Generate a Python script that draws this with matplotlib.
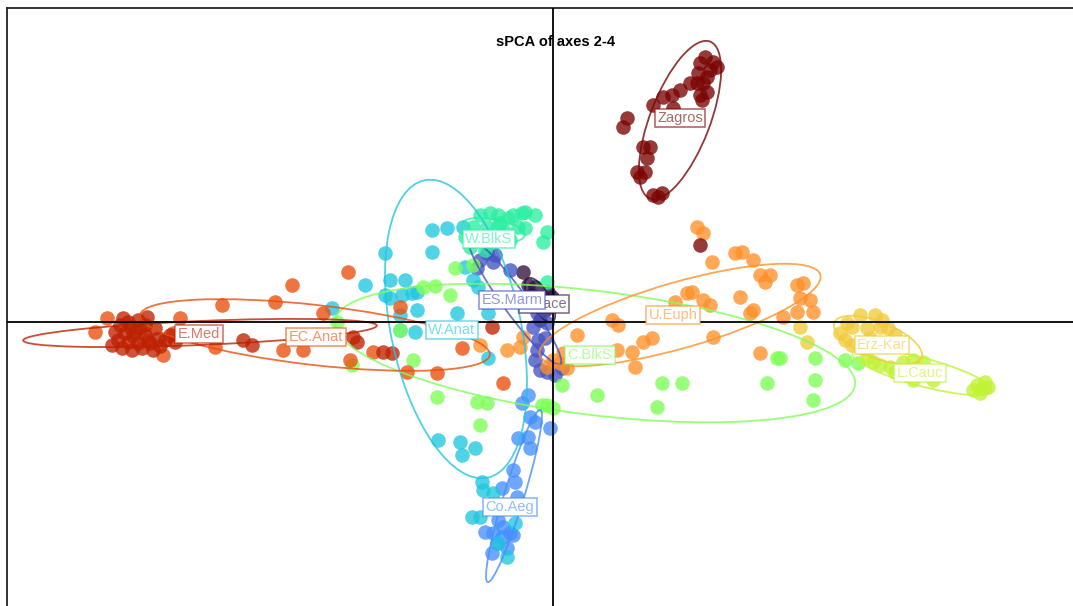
import matplotlib
matplotlib.use("Agg")
import matplotlib.pyplot as plt
import numpy as np
from matplotlib.patches import Ellipse

# sPCA scores (axis 2 on x, axis 4 on y), one list of (x, y) per population
groups = ["Thrace", "ES.Marm", "Co.Aeg", "W.Anat", "W.BlkS", "C.BlkS",
          "L.Cauc", "Erz-Kar", "U.Euph", "EC.Anat", "E.Med", "Zagros"]

thrace = [(-30, 50), (-25, 37), (-18, 35), (-5, 30), (-1, 25), (-21, 27), (-8, 12), (-13, 2)]
es_marm = [(-66, 69), (-58, 67), (-73, 62), (-76, 54), (-60, 60), (-16, 9), (-20, -5), (-10, 12),
           (-6, -1), (-15, -18), (-8, -16), (-18, -38), (-13, -48), (-6, -50), (-16, -28),
           (2, -53), (9, -46), (-43, 52)]
co_aeg = [(-25, -73), (-31, -81), (-23, -95), (-18, -100), (-3, -106), (-35, -116), (-25, -115),
          (-23, -126), (-40, -148), (-38, -160), (-51, -166), (-36, -175), (-55, -198), (-50, -205),
          (-60, -211), (-68, -210), (-43, -211), (-56, -221), (-61, -231), (-46, -226), (-40, -213),
          (-51, -215)]
w_anat = [(-121, 92), (-106, 94), (-90, 95), (-168, 69), (-121, 70), (-163, 42), (-148, 42),
          (-136, 30), (-168, 27), (-151, 27), (-141, 29), (-136, 12), (-96, 9), (-138, -10),
          (-65, 9), (-88, 55), (-80, 42), (-75, 35), (-153, -8), (-188, 37), (-163, 24), (-221, 14),
          (-65, -36), (-115, -118), (-93, -120), (-91, -133), (-78, -126), (-71, -160), (-70, -168),
          (-60, -171), (-81, -195), (-73, -195), (-55, -221), (-46, -235), (-38, -201), (-153, 7)]
w_blks = [(-73, 107), (-63, 109), (-55, 107), (-45, 104), (-40, 107), (-31, 109), (-28, 110),
          (-35, 95), (-28, 94), (-6, 90), (-10, 80), (-80, 95), (-66, 95), (-56, 95), (-53, 99),
          (-73, 85), (-83, 75), (-63, 79), (-6, 40), (-48, 90), (-43, 82), (-88, 85), (-68, 72),
          (-18, 107)]
c_blks = [(-130, 35), (-118, 36), (-103, 27), (-153, -8), (-140, -38), (-201, -43), (-216, 0),
          (-116, -75), (-76, -80), (-66, -81), (-98, 54), (-80, 57), (-73, -103), (-11, -83),
          (0, -86), (9, -63), (44, -73), (109, -61), (129, -61), (104, -85), (214, -61), (224, -36),
          (262, -36), (262, -58), (260, -78), (-6, -83), (292, -38), (305, -41), (227, -36)]
l_cauc = [(320, -40), (327, -43), (337, -45), (350, -40), (360, -38), (370, -40), (360, -58),
          (380, -58), (424, -63), (430, -66), (427, -71), (435, -65), (420, -68), (342, -50),
          (352, -53), (314, -36), (432, -60)]
erz_kar = [(294, -1), (307, 7), (322, 7), (329, 2), (335, -6), (287, -11), (299, -5), (314, -6),
           (327, -5), (299, -23), (309, -26), (247, -5), (254, -20), (292, -18), (317, -16), (342, -13)]
u_euph = [(144, 95), (150, 89), (159, 60), (182, 69), (189, 70), (200, 62), (207, 47), (217, 47),
          (212, 40), (244, 37), (250, 39), (247, 24), (257, 22), (260, 10), (244, 10), (230, 5),
          (200, 12), (197, 9), (187, 25), (139, 30), (134, 29), (150, 22), (157, 17), (122, 20),
          (160, -15), (207, -31), (65, -3), (24, -13), (64, -28), (79, -30), (90, -20), (99, -16),
          (82, -45), (0, -38), (7, -41), (14, -46), (-30, -15), (-33, -25), (-46, -28), (-73, -23),
          (-6, -45), (10, -31), (59, 2)]
ec_anat = [(-261, 37), (-278, 20), (-331, 17), (-230, 9), (-338, -25), (-270, -28), (-250, -28),
           (-373, 4), (-380, -11), (-205, 50), (-153, 15), (-203, -38), (-180, -30), (-146, -50),
           (-116, -51), (-91, -26), (-50, -61), (-446, 4), (-458, -10), (-390, -33)]
e_med = [(-406, 5), (-400, -28), (-433, -3), (-425, 0), (-415, 2), (-408, -3), (-398, -6),
         (-438, -10), (-428, -11), (-418, -10), (-408, -13), (-395, -16), (-388, -18), (-435, -18),
         (-425, -20), (-415, -21), (-403, -21), (-393, -24), (-431, -26), (-421, -28), (-411, -26),
         (-405, -18), (-413, -6), (-423, -5), (-441, -23), (-383, -13), (-378, -20), (-310, -18),
         (-301, -23), (-200, -15), (-196, -20), (-170, -30), (-161, -31), (-61, -5), (-420, -14),
         (-430, 4)]
zagros = [(152, 265), (160, 260), (164, 255), (147, 259), (157, 252), (145, 249), (154, 245),
          (144, 239), (150, 239), (137, 239), (154, 230), (147, 227), (149, 222), (127, 232),
          (119, 227), (110, 225), (100, 217), (120, 214), (74, 204), (70, 195), (90, 175), (97, 175),
          (94, 164), (84, 150), (92, 150), (87, 145), (100, 127), (109, 129), (105, 125), (147, 77)]

points = [thrace, es_marm, co_aeg, w_anat, w_blks, c_blks,
          l_cauc, erz_kar, u_euph, ec_anat, e_med, zagros]

# group ellipses: centre x, centre y, half major, half minor, angle (deg)
ell_x = [-13, -38, -39, -97, -60, 42, 369, 325, 127, -238, -353, 127]
ell_y = [22, 20, -174, -7, 92, -31, -50, -18, 7, -13, -11, 202]
ell_a = [25, 77, 90, 152, 32, 262, 72, 47, 146, 176, 177, 84]
ell_b = [10, 12, 10, 65, 11, 62, 14, 18, 33, 30, 12, 30]
ell_ang = [-60, -54, 73, 102, -10, -7, -15, -22, 16, -6.5, 2.4, 69]

# label positions
lab_x = [-9, -41, -43, -101, -64, 37, 367, 329, 120, -237, -354, 127]
lab_y = [18, 22, -185, -8, 83, -33, -51, -23, 7, -15, -12, 204]

colors = plt.get_cmap("turbo")(np.linspace(0, 1, len(groups)))

fig = plt.figure(figsize=[10.73, 6.06], dpi=100)
ax = fig.add_axes([7 / 1073, -6 / 606, 1073 / 1073, 604 / 606])
ax.set_xlim(-546, 527)
ax.set_ylim(-290, 314)
ax.set_xticks([])
ax.set_yticks([])
for s in ax.spines.values():
    s.set_linewidth(1.3)
    s.set_color("#222222")

ax.axhline(0, color="black", lw=1.3, zorder=5)
ax.axvline(0, color="black", lw=1.3, zorder=5)

for pts, c in zip(points, colors):
    p = np.array(pts)
    ax.scatter(p[:, 0], p[:, 1], s=110, color=c, alpha=0.78, linewidths=0, zorder=2)

for i, c in enumerate(colors):
    e = Ellipse((ell_x[i], ell_y[i]), 2 * ell_a[i], 2 * ell_b[i], angle=ell_ang[i],
                fill=False, edgecolor=c, lw=1.3, alpha=0.8, zorder=3)
    ax.add_patch(e)

for i, g in enumerate(groups):
    c = colors[i]
    ax.text(lab_x[i], lab_y[i], g, ha="center", va="center", fontsize=10.5,
            family="Liberation Sans", color=(c[0], c[1], c[2], 0.6), zorder=6 + i * 0.01,
            bbox=dict(boxstyle="square,pad=0.16", fc="white",
                      ec=(c[0], c[1], c[2], 0.6), lw=1.2))

ax.text(3, 280, "sPCA of axes 2-4", ha="center", va="center", fontsize=10.5,
        fontweight="bold", family="Liberation Sans", zorder=4)

fig.savefig("out.png", dpi=100)
